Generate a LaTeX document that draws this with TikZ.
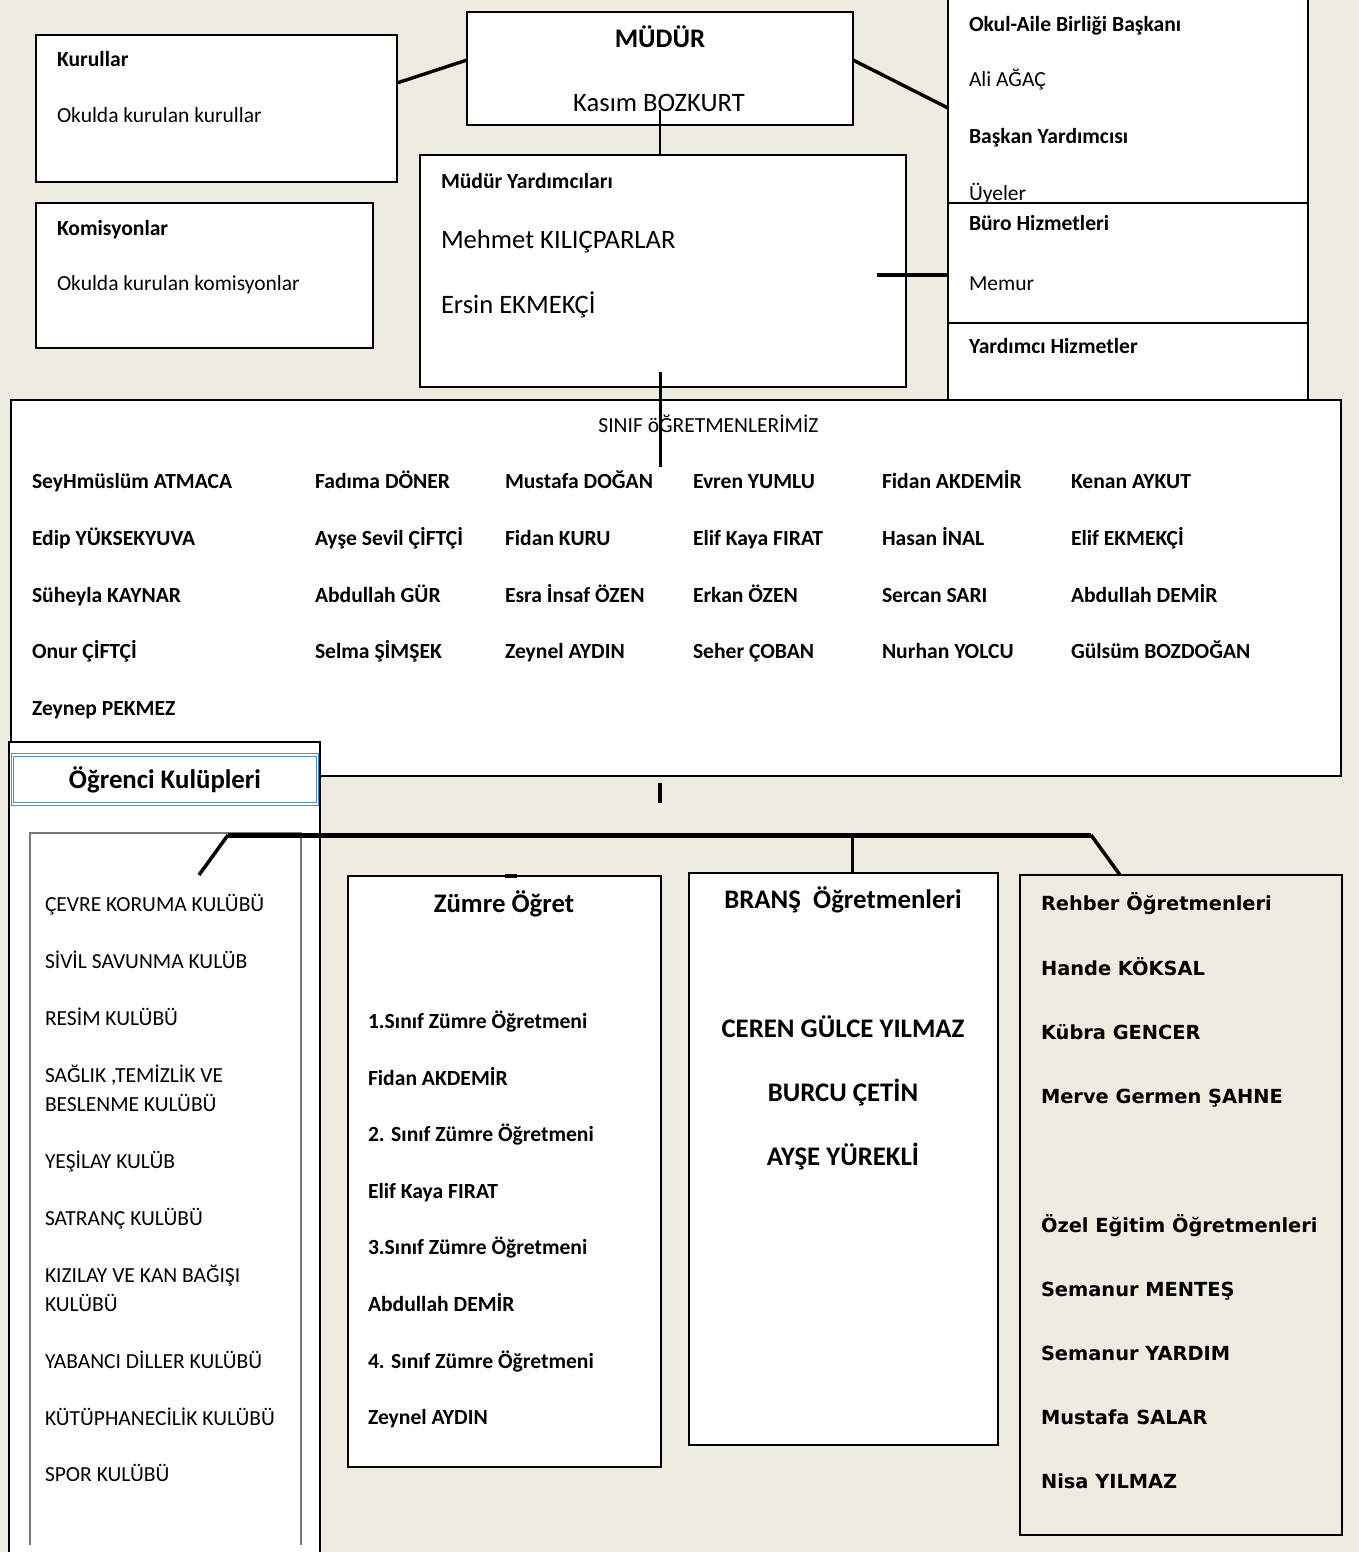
\documentclass[tikz,border=0pt]{standalone}
\usepackage{fontspec}
\setmainfont{Carlito}
\newfontfamily\dvfont{DejaVu Sans}
\usetikzlibrary{calc}
\definecolor{bgc}{RGB}{238,235,224}
\definecolor{hdblue}{RGB}{84,141,194}
\definecolor{ingray}{RGB}{120,120,120}
\tikzset{
  box/.style={draw=black, line width=1.6pt, fill=white, inner sep=0pt, outer sep=0pt, anchor=north west},
  txt/.style={anchor=base west, inner sep=0pt, outer sep=0pt, font=\fontsize{21.5}{25}\selectfont},
  btxt/.style={txt, font=\fontsize{21.6}{25}\selectfont\bfseries},
  bigtxt/.style={txt, font=\fontsize{26.6}{30}\selectfont},
  bigbtxt/.style={txt, font=\fontsize{26.8}{30}\selectfont\bfseries},
  dvtxt/.style={txt, font=\fontsize{19.4}{24}\selectfont\dvfont\bfseries},
  conn/.style={line width=3.4pt},
  thinconn/.style={line width=1.8pt},
}
\begin{document}
\begin{tikzpicture}[x=1pt,y=-1pt]
\useasboundingbox (0,0) rectangle (1359,1552);
\fill[bgc] (0,0) rectangle (1359,1552);

% ---- top left boxes
\node[box, minimum width=361pt, minimum height=147pt] (kur) at (36,35) {};
\node[btxt] (kurT) at (57,67) {Kurullar};
\node[txt] (kurD) at (57,123) {Okulda kurulan kurullar};

\node[box, minimum width=337pt, minimum height=145pt] (kom) at (36,203) {};
\node[btxt] (komT) at (57,235) {Komisyonlar};
\node[txt] (komD) at (57,290) {Okulda kurulan komisyonlar};

% ---- Mudur
\node[box, minimum width=386pt, minimum height=113pt] (mud) at (467,12) {};
\node[bigbtxt, anchor=base] (mudT) at (660,48) {MÜDÜR};
\node[bigtxt, anchor=base] (mudN) at (659,112) {Kasım BOZKURT};

% ---- Mudur yardimcilari
\node[box, minimum width=486pt, minimum height=232pt] (my) at (420,155) {};
\node[btxt] (myT) at (441,188) {Müdür Yardımcıları};
\node[bigtxt] (my1) at (441,248) {Mehmet KILIÇPARLAR};
\node[bigtxt] (my2) at (441,313) {Ersin EKMEKÇİ};

% ---- right boxes
\node[box, minimum width=360pt, minimum height=247pt] (okul) at (948,-5) {};
\node[btxt] (okT) at (969,32) {Okul-Aile Birliği Başkanı};
\node[txt] (okN) at (969,87) {Ali AĞAÇ};
\node[btxt] (okY) at (969,143) {Başkan Yardımcısı};
\node[txt] (okU) at (969,200) {Üyeler};

\node[box, minimum width=360pt, minimum height=120pt] (buro) at (948,203) {};
\node[btxt] (buT) at (969,230) {Büro Hizmetleri};
\node[txt] (buN) at (969,290) {Memur};

\node[box, minimum width=360pt, minimum height=77pt] (yard) at (948,323) {};
\node[btxt] (yaT) at (969,353) {Yardımcı Hizmetler};

% ---- connectors top
\draw[conn] ($(kur.east)+(0,-25.5)$) -- ($(mud.west)+(0,-8.5)$);
\draw[conn] ($(mud.east)+(0,-8.5)$) -- ($(okul.west)+(0,-10.5)$);
\draw[conn] ($(kom.east)+(0,-24.5)$) -- ($(kom.east)+(0,-24.5)$ -| my.west);
\draw[thinconn] ($(mud.south)+(0,-15)$) -- (mud.south |- my.north);
\draw[conn] ($(buro.west)+(-71,12)$) -- ($(buro.west)+(0,12)$);

% ---- big class teachers box
\node[box, minimum width=1330pt, minimum height=376pt] (sinif) at (11,400) {};
\node[txt, anchor=base] (sinT) at (708.5,432) {SINIF öĞRETMENLERİMİZ};
\draw[line width=3pt] ($(mud.south |- my.south)+(0,-15)$) -- ($(mud.south |- sinif.north)+(0,67)$);

\foreach \name/\x/\y [count=\i] in {
  SeyHmüslüm ATMACA/32/488, Fadıma DÖNER/315/488, Mustafa DOĞAN/505/488, Evren YUMLU/693/488, Fidan AKDEMİR/882/488, Kenan AYKUT/1071/488,
  Edip YÜKSEKYUVA/32/545, Ayşe Sevil ÇİFTÇİ/315/545, Fidan KURU/505/545, Elif Kaya FIRAT/693/545, Hasan İNAL/882/545, Elif EKMEKÇİ/1071/545,
  Süheyla KAYNAR/32/602, Abdullah GÜR/315/602, Esra İnsaf ÖZEN/505/602, Erkan ÖZEN/693/602, Sercan SARI/882/602, Abdullah DEMİR/1071/602,
  Onur ÇİFTÇİ/32/658, Selma ŞİMŞEK/315/658, Zeynel AYDIN/505/658, Seher ÇOBAN/693/658, Nurhan YOLCU/882/658, Gülsüm BOZDOĞAN/1071/658,
  Zeynep PEKMEZ/32/715}
  \node[btxt] (st\i) at (\x,\y) {\name};

% ---- student clubs
\node[box, minimum width=311pt, minimum height=830pt] (club) at (9,742) {};
\node[anchor=north west, inner sep=0pt, outer sep=0pt, minimum width=305pt, minimum height=49pt,
      draw=hdblue, double=white, double distance=1.6pt, line width=0.9pt, fill=white] (clubhd) at (12.5,755) {};
\node[bigbtxt, anchor=base] (clubT) at (165,788) {Öğrenci Kulüpleri};
\node[anchor=north west, inner sep=0pt, outer sep=0pt, minimum width=271pt, minimum height=712pt] (clubin) at (30,833) {};
\draw[ingray, line width=1.2pt] (clubin.south west) -- (clubin.north west) -- (clubin.north east) -- (clubin.south east);
\foreach \name/\y [count=\i] in {
  ÇEVRE KORUMA KULÜBÜ/911, SİVİL SAVUNMA KULÜB/968, RESİM KULÜBÜ/1025,
  {SAĞLIK ,TEMİZLİK VE}/1082, BESLENME KULÜBÜ/1111, YEŞİLAY KULÜB/1168,
  SATRANÇ KULÜBÜ/1225, KIZILAY VE KAN BAĞIŞI/1282, KULÜBÜ/1311,
  YABANCI DİLLER KULÜBÜ/1368, KÜTÜPHANECİLİK KULÜBÜ/1425, SPOR KULÜBÜ/1481}
  \node[txt] (cl\i) at (45,\y) {\name};

% ---- tick under big box
\draw[line width=4pt] ($(mud.south |- sinif.south)+(0,7)$) -- ($(mud.south |- sinif.south)+(0,27)$);

% ---- Zumre
\node[box, minimum width=313pt, minimum height=591pt] (zum) at (348,876) {};
\node[bigbtxt, anchor=base] (zumT) at (504,912) {Zümre Öğret};
\foreach \name/\y [count=\i] in {
  1.Sınıf Zümre Öğretmeni/1028, Fidan AKDEMİR/1085, 2. Sınıf Zümre Öğretmeni/1141, Elif Kaya FIRAT/1198,
  3.Sınıf Zümre Öğretmeni/1254, Abdullah DEMİR/1311, 4. Sınıf Zümre Öğretmeni/1368, Zeynel AYDIN/1424}
  \node[btxt] (zu\i) at (368,\y) {\name};
\draw[line width=3.5pt] (zum.north) -- ++(12,0);

% ---- Brans
\node[box, minimum width=309pt, minimum height=572pt] (brans) at (689,873) {};
\node[bigbtxt, anchor=base] (brT) at (843,908) {BRANŞ~~Öğretmenleri};
\node[bigbtxt, anchor=base] (br1) at (843,1037) {CEREN GÜLCE YILMAZ};
\node[bigbtxt, anchor=base] (br2) at (843,1101) {BURCU ÇETİN};
\node[bigbtxt, anchor=base] (br3) at (843,1165) {AYŞE YÜREKLİ};

% ---- Rehber
\node[box, fill=bgc, minimum width=322pt, minimum height=660pt] (reh) at (1020,875) {};
\foreach \name/\y [count=\i] in {
  Rehber Öğretmenleri/910, Hande KÖKSAL/975, Kübra GENCER/1039, Merve Germen ŞAHNE/1103,
  Özel Eğitim Öğretmenleri/1232, Semanur MENTEŞ/1296, Semanur YARDIM/1360, Mustafa SALAR/1424, Nisa YILMAZ/1488}
  \node[dvtxt] (re\i) at (1041,\y) {\name};

% ---- bus
\coordinate (busL) at (228,835);
\coordinate (busR) at (1091,835);
\coordinate (clubEnd) at (199,875);
\draw[line width=5pt] (busL) -- (busR);
\draw[line width=3.5pt] (clubEnd) -- (busL);
\draw[line width=3.5pt] (busR) -- ($(reh.north west)+(100,0)$);
\draw[line width=3pt] (brans.north -| 852,0) -- (busR -| 852,0);
\end{tikzpicture}
\end{document}
